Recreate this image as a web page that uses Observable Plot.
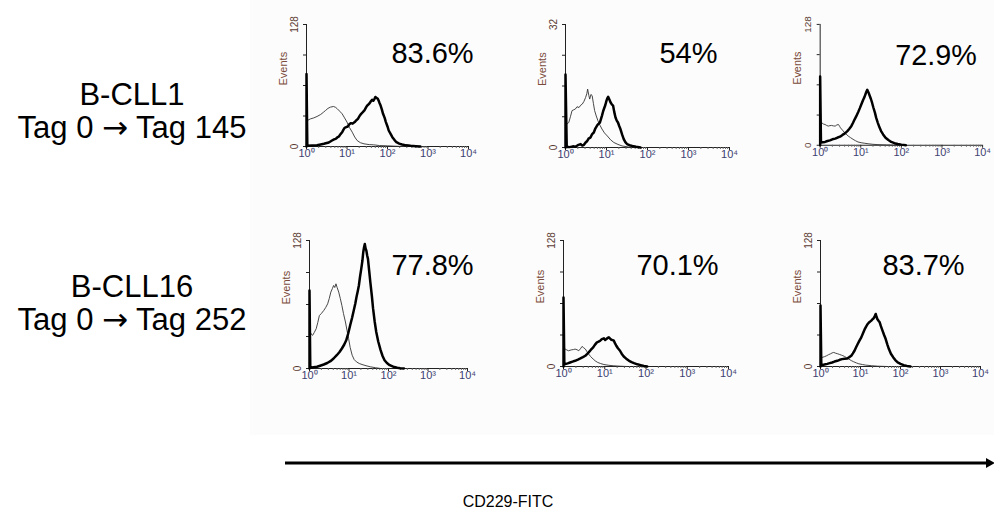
<!DOCTYPE html>
<html><head><meta charset="utf-8">
<script src="https://cdn.jsdelivr.net/npm/d3@7"></script>
<script src="https://cdn.jsdelivr.net/npm/@observablehq/plot@0.6"></script>
<style>
html,body{margin:0;padding:0;background:#fff;}
#fig{position:relative;width:994px;height:511px;overflow:hidden;font-family:"Liberation Sans",Arial,sans-serif;}
.bg{position:absolute;left:250px;top:0;width:744px;height:435px;background:#fcfcfc;}
.panel{position:absolute;}
.panel svg{overflow:visible;}
.row{position:absolute;left:0;width:264px;text-align:center;font-size:31px;line-height:33px;color:#000;white-space:nowrap;}
.arr{font-family:"DejaVu Sans",sans-serif;font-size:31px;}
.cap{position:absolute;left:408px;width:200px;top:493px;text-align:center;font-size:16px;color:#000;}
</style></head>
<body><div id="fig"><div class="bg"></div></div>
<script>
// ---- data: [log10 CD229-FITC intensity, events] ----
const rowLabels = ["B-CLL1", "B-CLL16"];
const rowFrom = ["Tag 0", "Tag 0"];
const rowTo = ["Tag 145", "Tag 252"];
const percents = ["83.6%", "54%", "72.9%", "77.8%", "70.1%", "83.7%"];
const yMax = [128, 32, 128, 128, 128, 128];
const decades = [1, 10, 100, 1000, 10000];
const decadeLabels = ["10\u2070", "10\u00b9", "10\u00b2", "10\u00b3", "10\u2074"];

const p1Tag0 = [[0,27.3],[0.02,27.3],[0.1,29],[0.18,30],[0.26,31.5],[0.35,33.6],[0.42,36],[0.47,37.8],[0.53,40],[0.59,41.3],[0.67,42],[0.72,41],[0.76,39.6],[0.82,37],[0.88,34.3],[0.94,30],[1.0,25.6],[1.06,20],[1.13,15],[1.19,10],[1.25,6.3],[1.33,4],[1.42,2.8],[1.55,2],[1.66,1.75],[1.8,1],[2.0,0.7],[2.2,0.3],[2.4,0]];
const p1Tag145 = [[0,0],[0,76],[0.02,0.7],[0.14,1],[0.26,1.4],[0.35,2.2],[0.43,2.8],[0.5,3.6],[0.55,4.2],[0.6,5.5],[0.63,6.3],[0.68,7.5],[0.72,8],[0.76,9.5],[0.8,10.5],[0.84,13],[0.88,15],[0.91,17.5],[0.94,19.6],[0.98,20.3],[1.02,21],[1.06,23.5],[1.1,24.5],[1.14,24],[1.19,25.6],[1.23,27.5],[1.27,29],[1.31,32],[1.35,34.3],[1.39,36],[1.43,37.8],[1.47,41],[1.5,43],[1.53,44],[1.56,45.5],[1.59,47.5],[1.62,49],[1.65,48],[1.68,50],[1.7,52],[1.73,51],[1.76,50],[1.78,48.3],[1.8,46],[1.83,43],[1.86,39],[1.89,34.3],[1.93,30],[1.96,25.6],[2.0,21],[2.03,16.8],[2.08,13],[2.12,9.8],[2.17,7],[2.22,4.5],[2.29,3],[2.36,2.1],[2.46,1.2],[2.57,0.7],[2.7,0.3],[2.81,0]];

const p2Tag0 = [[0,6.5],[0.04,6.2],[0.08,6.5],[0.12,8],[0.16,9.6],[0.2,9.8],[0.24,10],[0.28,10.6],[0.33,10.4],[0.37,11],[0.41,11.3],[0.45,12],[0.49,13],[0.52,14],[0.54,15.2],[0.57,13.5],[0.59,12.6],[0.62,13.8],[0.65,13.5],[0.68,11.5],[0.71,9.6],[0.75,8.2],[0.79,7],[0.84,5.8],[0.89,4.8],[0.95,3.8],[1.02,3],[1.1,2],[1.18,1.3],[1.28,0.8],[1.38,0.4],[1.5,0.2],[1.59,0]];
const p2Tag145 = [[0,0],[0,19],[0.03,0.2],[0.1,0.1],[0.18,0.3],[0.24,0.2],[0.3,0.6],[0.37,0.9],[0.41,0.5],[0.45,0.7],[0.49,1.3],[0.53,1.7],[0.57,2.4],[0.61,2.6],[0.65,3.5],[0.69,3.9],[0.73,5],[0.77,5.7],[0.8,6.1],[0.84,6.5],[0.87,7.6],[0.89,8.3],[0.92,9.5],[0.95,10.4],[0.97,11],[1.0,12.2],[1.02,12.8],[1.04,13.2],[1.07,12.5],[1.1,11.7],[1.13,11.2],[1.16,10.9],[1.19,9.2],[1.22,7.8],[1.25,7],[1.28,6.5],[1.31,5.6],[1.34,4.8],[1.38,3.4],[1.42,2.2],[1.46,1.4],[1.5,0.9],[1.56,0.6],[1.63,0.4],[1.72,0.2],[1.83,0]];

const p3Tag0 = [[0,23.8],[0.04,23.8],[0.08,22.5],[0.12,22],[0.16,21],[0.2,20.3],[0.24,20.8],[0.28,21],[0.33,20.5],[0.37,20.3],[0.41,21.5],[0.45,22],[0.48,20],[0.5,18.5],[0.55,16],[0.59,14],[0.64,11.8],[0.69,9.8],[0.75,8],[0.81,6.3],[0.87,4.8],[0.93,3.5],[1.01,2.7],[1.1,2.1],[1.2,1.5],[1.3,1],[1.45,0.6],[1.63,0.35],[1.8,0.15],[1.95,0]];
const p3Tag145 = [[0,0],[0,72.8],[0.02,2.8],[0.07,3.2],[0.12,3.5],[0.18,4.5],[0.24,5.2],[0.3,6.3],[0.37,7],[0.43,8.2],[0.49,9.1],[0.55,11],[0.61,12.6],[0.67,15],[0.72,17.5],[0.77,20.5],[0.81,23.8],[0.85,27.5],[0.89,30.8],[0.94,35.5],[0.98,39.6],[1.02,44],[1.06,48.3],[1.09,51],[1.12,54.6],[1.14,57],[1.16,58.8],[1.19,56],[1.22,52.5],[1.25,49],[1.28,44.8],[1.31,40],[1.35,34.3],[1.38,29],[1.42,23.8],[1.46,19],[1.5,15],[1.55,11.5],[1.61,8],[1.68,5.5],[1.75,3.5],[1.83,2.2],[1.91,1.4],[2.0,0.7],[2.11,0]];

const p4Tag0 = [[0,36.5],[0.02,36.5],[0.05,34],[0.08,33.2],[0.12,36],[0.17,39.8],[0.21,46],[0.25,53],[0.3,55],[0.36,58],[0.41,61],[0.46,64.7],[0.5,70],[0.54,76.4],[0.58,80],[0.61,83],[0.64,81],[0.67,84.7],[0.7,81],[0.74,76.4],[0.78,70],[0.82,63],[0.86,55],[0.91,46.5],[0.95,38],[0.99,30],[1.03,21],[1.08,13.3],[1.13,9],[1.19,6.6],[1.26,5],[1.33,4],[1.43,2.8],[1.54,1.7],[1.67,0.8],[1.8,0]];
const p4Tag252 = [[0,0],[0,78],[0.02,0.7],[0.1,1.2],[0.19,1.7],[0.27,2.8],[0.36,4],[0.45,5.5],[0.53,7.3],[0.61,10],[0.69,13.3],[0.76,16.5],[0.82,20],[0.88,24],[0.93,28.2],[0.98,35],[1.03,43.2],[1.08,51],[1.12,58],[1.16,65],[1.19,71.4],[1.22,77],[1.25,83],[1.28,92],[1.31,99.6],[1.34,108],[1.36,116],[1.38,121],[1.4,124.5],[1.42,120],[1.44,117.9],[1.46,113],[1.48,109.6],[1.51,98],[1.54,86.3],[1.58,72],[1.61,59.8],[1.65,47],[1.69,36.5],[1.74,27],[1.8,18.3],[1.85,12.5],[1.9,8.3],[1.96,5.5],[2.03,3.3],[2.12,1.8],[2.22,0.7],[2.3,0.3],[2.39,0]];

const p5Tag0 = [[0,17.7],[0.04,17.7],[0.08,16.8],[0.12,16],[0.16,16.5],[0.2,17],[0.24,17.2],[0.28,17.7],[0.33,17],[0.37,16],[0.41,18],[0.45,20.4],[0.49,19],[0.53,17.7],[0.57,15],[0.61,12.6],[0.66,10],[0.72,7.5],[0.77,5.7],[0.83,4.1],[0.9,3],[0.98,2],[1.1,1.2],[1.22,0.7],[1.38,0.3],[1.54,0]];
const p5Tag252 = [[0,0],[0,70],[0.02,2.4],[0.04,2.4],[0.1,3.2],[0.16,4.1],[0.22,5],[0.28,5.8],[0.35,7],[0.41,8.2],[0.47,9.5],[0.53,10.9],[0.57,12.5],[0.61,14.3],[0.66,16.8],[0.72,19.4],[0.76,22],[0.81,24.5],[0.85,25.2],[0.89,26.2],[0.93,27.8],[0.98,28.6],[1.01,27],[1.04,27.9],[1.07,29],[1.1,29.6],[1.13,28.3],[1.16,27.2],[1.19,26.8],[1.22,26.2],[1.25,23.5],[1.28,21.1],[1.32,18.5],[1.37,16],[1.41,13],[1.46,10.2],[1.52,8],[1.59,5.8],[1.65,4.5],[1.71,3.4],[1.79,2.2],[1.87,1.4],[1.95,0.6],[2.03,0]];

const p6Tag0 = [[0,9.2],[0.04,9.2],[0.1,10],[0.15,10.9],[0.2,12],[0.25,12.9],[0.29,13.8],[0.33,14.3],[0.38,13.5],[0.43,12.9],[0.48,12.2],[0.52,11.6],[0.56,11],[0.6,10.2],[0.65,9],[0.71,7.5],[0.77,6],[0.83,4.8],[0.9,3.6],[0.96,2.7],[1.05,2],[1.13,1.4],[1.28,0.8],[1.42,0.34],[1.55,0.15],[1.67,0]];
const p6Tag252 = [[0,0],[0,61.9],[0.02,1.4],[0.04,1.4],[0.1,2],[0.17,2.7],[0.23,3.4],[0.29,4.1],[0.35,5],[0.42,5.8],[0.48,6.8],[0.54,7.5],[0.6,7.9],[0.67,8.2],[0.72,9.5],[0.77,10.9],[0.81,13.3],[0.85,16],[0.89,19.5],[0.93,22.8],[0.97,26],[1.02,29.6],[1.06,33.5],[1.1,37.4],[1.14,40.5],[1.18,43.2],[1.22,45],[1.27,46.6],[1.3,48],[1.33,49],[1.36,51.5],[1.38,53.4],[1.4,50.5],[1.42,48.3],[1.45,46.5],[1.48,44.9],[1.51,41],[1.55,36.4],[1.59,32],[1.63,27.9],[1.67,22.5],[1.71,17.7],[1.76,13],[1.82,9.2],[1.87,6.5],[1.93,4.1],[2.0,2.7],[2.08,1.4],[2.16,0.6],[2.25,0]];

const controls = [p1Tag0, p2Tag0, p3Tag0, p4Tag0, p5Tag0, p6Tag0];
const treated = [p1Tag145, p2Tag145, p3Tag145, p4Tag252, p5Tag252, p6Tag252];

// ---- layout (pixel frame of each histogram) ----
const frames = [
  {x0:306, x4:468, top:24,  bottom:146, lx:126, ly:29},
  {x0:565, x4:729, top:24,  bottom:147, lx:123, ly:29},
  {x0:820, x4:984, top:24,  bottom:146, lx:117, ly:32},
  {x0:309, x4:467, top:240, bottom:368, lx:123, ly:25},
  {x0:563, x4:728, top:240, bottom:366, lx:114, ly:25},
  {x0:820, x4:980, top:240, bottom:366, lx:103, ly:25}
];

const fig = document.getElementById("fig");
const minorTicks = [];
for (let e = 0; e < 4; e++) for (let m = 2; m <= 9; m++) minorTicks.push(m * 10 ** e);
const toPt = ([lg, ev]) => ({x: 10 ** lg, y: ev});
const mL = 36, mT = 8, mR = 12, mB = 22;

frames.forEach((f, i) => {
  const w = f.x4 - f.x0, h = f.bottom - f.top, ymax = yMax[i];
  const yTicks = [0, ymax / 4, ymax / 2, 3 * ymax / 4, ymax];
  const chart = Plot.plot({
    width: mL + w + mR, height: mT + h + mB,
    marginLeft: mL, marginTop: mT, marginRight: mR, marginBottom: mB,
    style: {background: "transparent", fontFamily: "Liberation Sans, Arial, sans-serif", color: "#222"},
    x: {type: "log", domain: [1, 1e4], axis: null},
    y: {domain: [0, ymax], axis: null},
    marks: [
      Plot.ruleY([0], {stroke: "#222", strokeWidth: 1}),
      Plot.ruleX([1], {y1: 0, y2: ymax, stroke: "#222", strokeWidth: 1}),
      Plot.axisX({ticks: minorTicks, tickSize: 2, tickFormat: () => "", stroke: "#666", label: null}),
      Plot.axisX({ticks: decades, tickSize: 3, tickPadding: 0, tickFormat: (d) => decadeLabels[decades.indexOf(d)], fontSize: 11, fill: "#3c4270", label: null}),
      Plot.axisY({ticks: yTicks, tickSize: 3, tickRotate: -90, tickFormat: (d) => (d === 0 || d === ymax) ? String(d) : "", fontSize: 10, fill: "#5a3a30", label: null}),
      Plot.text(["Events"], {frameAnchor: "left", dx: -23, rotate: -90, fontSize: 11, fill: "#7a4a3a", text: (d) => d}),
      Plot.line(controls[i].map(toPt), {x: "x", y: "y", stroke: "#333", strokeWidth: 0.9}),
      Plot.line(treated[i].map(toPt), {x: "x", y: "y", stroke: "#000", strokeWidth: 2.5}),
      Plot.text([percents[i]], {frameAnchor: "top-left", dx: f.lx, dy: f.ly, fontSize: 29, fill: "#000", textAnchor: "middle", lineAnchor: "middle", text: (d) => d})
    ]
  });
  const div = document.createElement("div");
  div.className = "panel";
  div.style.left = (f.x0 - mL) + "px";
  div.style.top = (f.top - mT) + "px";
  div.appendChild(chart);
  fig.appendChild(div);
});

// row labels
const rowTops = [78, 270];
rowLabels.forEach((lab, r) => {
  const d = document.createElement("div");
  d.className = "row";
  d.style.top = rowTops[r] + "px";
  d.innerHTML = lab + "<br>" + rowFrom[r] + ' <span class="arr">\u2192</span> ' + rowTo[r];
  fig.appendChild(d);
});

// axis arrow + caption
const ns = "http://www.w3.org/2000/svg";
const svg = document.createElementNS(ns, "svg");
svg.setAttribute("width", 994); svg.setAttribute("height", 511);
svg.style.position = "absolute"; svg.style.left = "0"; svg.style.top = "0"; svg.style.pointerEvents = "none";
svg.innerHTML = '<line x1="285" y1="463" x2="988" y2="463" stroke="#000" stroke-width="3"/>' +
  '<polygon points="986,458 995,463 986,468" fill="#000"/>';
fig.appendChild(svg);
const cap = document.createElement("div");
cap.className = "cap";
cap.textContent = "CD229-FITC";
fig.appendChild(cap);
</script>
</body></html>
